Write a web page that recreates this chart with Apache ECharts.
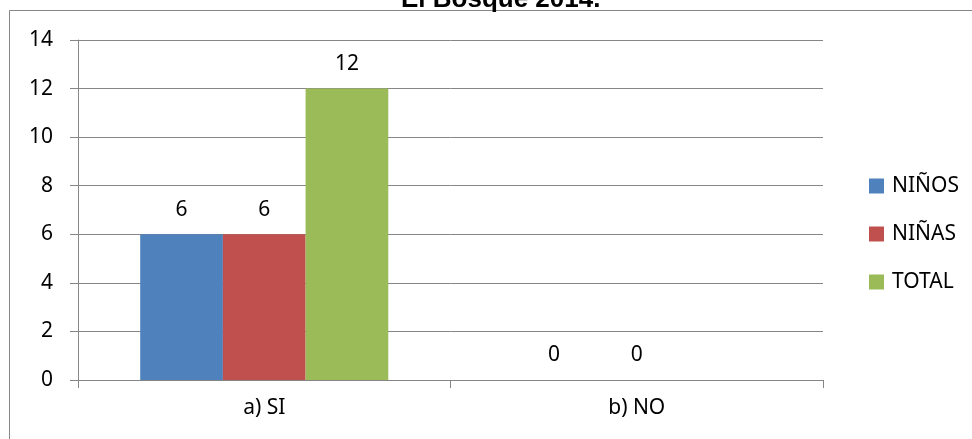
<!DOCTYPE html>
<html>
<head>
<meta charset="utf-8">
<script src="https://cdn.jsdelivr.net/npm/echarts@6/dist/echarts.min.js"></script>
<style>
  html, body { margin: 0; padding: 0; background: #fff; }
  #main { width: 972px; height: 439px; }
</style>
</head>
<body>
<div id="main"></div>
<script>
var categories = ['a) SI', 'b) NO'];
var ninos = [6, 0];
var ninas = [6, 0];
var total = [12, null];
var yTicks = [0, 14, 2]; // min, max, interval

var FONT = 'Noto Sans';
var chart = echarts.init(document.getElementById('main'));

function barSeries(name, data, color) {
  return {
    name: name,
    type: 'bar',
    data: data,
    barGap: 0,
    barCategoryGap: '33.4%',
    itemStyle: { color: color },
    label: {
      show: true,
      position: 'top',
      distance: 14,
      color: '#000',
      fontFamily: FONT,
      fontSize: 21
    }
  };
}

var option = {
  animation: false,
  title: {
    text: 'El Bosque 2014.',
    left: 396,
    top: -18,
    textStyle: { fontFamily: 'Liberation Sans', fontWeight: 'bold', fontSize: 26, color: '#000' }
  },
  graphic: [{
    type: 'rect',
    shape: { x: 9.5, y: 10.5, width: 1000, height: 500 },
    style: { fill: null, stroke: '#868686', lineWidth: 1 },
    silent: true,
    z: -1
  }],
  legend: {
    orient: 'vertical',
    left: 864,
    top: 170,
    itemWidth: 15,
    itemHeight: 15,
    itemGap: 26,
    icon: 'rect',
    textStyle: { fontFamily: FONT, fontSize: 21, color: '#000', lineHeight: 22, padding: [0, 0, 0, 3] },
    data: ['NIÑOS', 'NIÑAS', 'TOTAL']
  },
  grid: { left: 78, right: 149, top: 40, bottom: 59 },
  xAxis: {
    type: 'category',
    data: categories,
    axisLine: { lineStyle: { color: '#868686' } },
    axisTick: { show: true, length: 8, lineStyle: { color: '#868686' } },
    axisLabel: { color: '#000', fontFamily: FONT, fontSize: 21, margin: 18 }
  },
  yAxis: {
    type: 'value',
    min: yTicks[0],
    max: yTicks[1],
    interval: yTicks[2],
    axisLine: { show: true, lineStyle: { color: '#868686' } },
    axisTick: { show: true, length: 8, lineStyle: { color: '#868686' } },
    axisLabel: { color: '#000', fontFamily: FONT, fontSize: 21, margin: 25 },
    splitLine: { lineStyle: { color: '#868686' } }
  },
  series: [
    barSeries('NIÑOS', ninos, '#4F81BD'),
    barSeries('NIÑAS', ninas, '#C0504D'),
    barSeries('TOTAL', total, '#9BBB59')
  ]
};

chart.setOption(option);
</script>
</body>
</html>
